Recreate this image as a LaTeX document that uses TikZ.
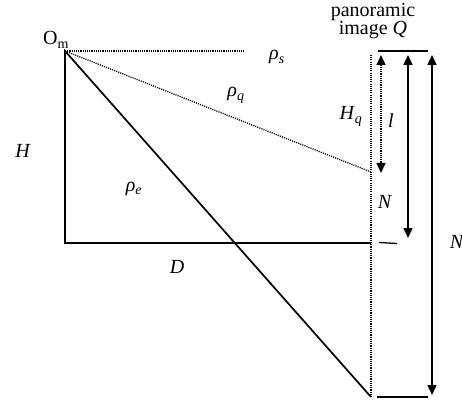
\documentclass[tikz,border=0pt]{standalone}
\usepackage{fontspec}
\setmainfont{Liberation Serif}
\usetikzlibrary{arrows.meta}

\begin{document}
\begin{tikzpicture}[x=1pt, y=-1pt, every node/.style={font=\fontsize{20}{17}\selectfont, inner sep=0pt, anchor=base},
		dimarrow/.style={{Triangle[length=10pt,width=9pt]}-{Triangle[length=10pt,width=9pt]}, line width=1.5pt},
		dotline/.style={dash pattern=on 1.1pt off 1.1pt, line width=1.3pt},
		solidline/.style={line width=1.7pt}]
		\useasboundingbox (0,0) rectangle (462,403);
		
		% ===== POINTS OF THE GEOMETRY =====
		\coordinate (Om) at (65, 51);
		\coordinate (foot) at (65, 243);
		\coordinate (ground) at (371, 243);
		\coordinate (horizon) at (245, 51);
		\coordinate (qpoint) at (371, 172);
		\coordinate (epoint) at (371, 397);
		\coordinate (imgtop) at (371, 55);
		
		% Triangle and viewing rays
		\draw[solidline] (epoint) -- (Om) -- (foot) -- (ground);
		\draw[dotline] (Om) -- (horizon);
		\draw[dotline] (Om) -- (qpoint);
		\draw[dotline] (imgtop) -- (epoint);
		
		% ===== PANORAMIC IMAGE =====
		\coordinate (topL) at (378, 51);
		\coordinate (topR) at (428, 51);
		\coordinate (botL) at (377, 397);
		\coordinate (botR) at (428, 397);
		\coordinate (dashL) at (379, 242.5);
		\coordinate (dashR) at (397, 243.5);
		\draw[solidline] (topL) -- (topR);
		\draw[solidline] (botL) -- (botR);
		\draw[line width=1.3pt] (dashL) -- (dashR);
		
		% Arrows l, N and N
		\coordinate (lTop) at (381, 55);
		\coordinate (lBot) at (381, 173);
		\coordinate (midTop) at (408, 55);
		\coordinate (midBot) at (408, 238);
		\coordinate (longTop) at (432, 55);
		\coordinate (longBot) at (432, 395);
		\draw[dimarrow, dotline] (lTop) -- (lBot);
		\draw[dimarrow] (midTop) -- (midBot);
		\draw[dimarrow] (longTop) -- (longBot);
		
		% ===== LABELS =====
		\node (omLabel) at (56, 45) {O\textsubscript{m}};
		\node (rhoS) at (277, 60) {\textit{ρ}\textsubscript{\textit{s}}};
		\node (rhoQ) at (236, 97) {\textit{ρ}\textsubscript{\textit{q}}};
		\node (rhoE) at (134, 191) {\textit{ρ}\textsubscript{\textit{e}}};
		\node (hLabel) at (23, 158) {\textit{H}};
		\node (dLabel) at (177, 273) {\textit{D}};
		\node (hqLabel) at (351, 120) {\textit{H}\textsubscript{\textit{q}}};
		\node (lLabel) at (391, 128) {\textit{l}};
		\node (nMid) at (385, 208) {\textit{N}};
		\node (nLong) at (457, 248) {\textit{N}};
		\node[align=center] (imgLabel) at (373, 35) {panoramic\\image \textit{Q}};
		
	\end{tikzpicture}
\end{document}
